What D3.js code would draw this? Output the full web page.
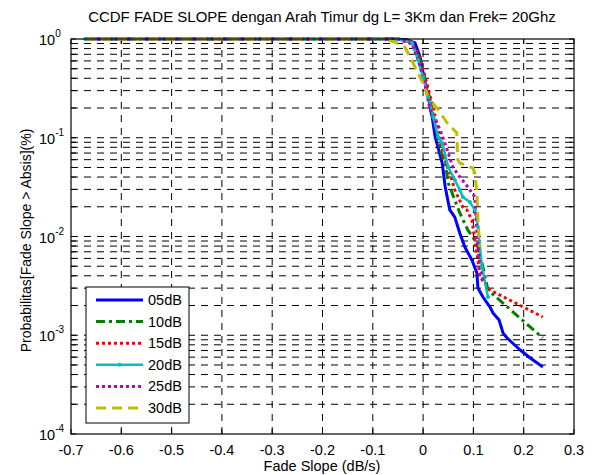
<!DOCTYPE html>
<html>
<head>
<meta charset="utf-8">
<script src="https://cdn.jsdelivr.net/npm/d3@7"></script>
<style>
  body { margin: 0; background: #fff; }
  svg { display: block; font-family: Arial, "Liberation Sans", sans-serif; }
</style>
</head>
<body>
<div id="chart"></div>
<script>
// CCDF of fade slope, six threshold levels, log y axis.
const xTicks = [-0.7, -0.6, -0.5, -0.4, -0.3, -0.2, -0.1, 0, 0.1, 0.2, 0.3];
const yDecades = [0, -1, -2, -3, -4];
const seriesNames = ['05dB', '10dB', '15dB', '20dB', '25dB', '30dB'];

const s05 = [[-0.672,1],[-0.056,1],[-0.032,0.98],[-0.016,0.911],[-0.006,0.657],[0.000,0.453],[0.010,0.259],[0.018,0.162],[0.024,0.102],[0.038,0.0555],[0.044,0.0317],[0.053,0.0186],[0.063,0.0157],[0.073,0.0108],[0.083,0.00783],[0.097,0.00578],[0.107,0.00427],[0.109,0.00301],[0.119,0.00244],[0.133,0.00193],[0.139,0.00168],[0.151,0.00143],[0.159,0.00105],[0.167,0.000938],[0.193,0.000709],[0.213,0.000589],[0.238,0.000477]];
const s10 = [[-0.672,1],[-0.052,1],[-0.026,0.954],[-0.010,0.689],[0.002,0.432],[0.014,0.241],[0.026,0.120],[0.034,0.0751],[0.044,0.0555],[0.050,0.0348],[0.063,0.0234],[0.073,0.0173],[0.089,0.0116],[0.099,0.00989],[0.109,0.00783],[0.119,0.00491],[0.129,0.00287],[0.238,0.000938]];
const s15 = [[-0.672,1],[-0.050,1],[-0.024,0.933],[-0.008,0.673],[0.004,0.412],[0.016,0.241],[0.028,0.135],[0.038,0.0751],[0.048,0.0506],[0.053,0.0440],[0.063,0.0296],[0.079,0.0199],[0.087,0.0186],[0.097,0.0147],[0.103,0.00922],[0.109,0.00578],[0.113,0.00389],[0.133,0.00287],[0.238,0.00153]];
const s20 = [[-0.672,1],[-0.217,1],[-0.090,1],[-0.052,1],[-0.022,0.911],[-0.010,0.613],[0.000,0.412],[0.010,0.259],[0.020,0.162],[0.030,0.102],[0.038,0.0885],[0.050,0.0506],[0.063,0.0373],[0.073,0.0296],[0.079,0.0251],[0.093,0.0223],[0.103,0.0186],[0.109,0.0125],[0.117,0.00491],[0.129,0.00244]];
const s25 = [[-0.672,1],[-0.050,1],[-0.022,0.890],[-0.010,0.613],[0.002,0.384],[0.014,0.191],[0.034,0.120],[0.048,0.0751],[0.059,0.0506],[0.073,0.0401],[0.089,0.0317],[0.103,0.0251],[0.107,0.0108],[0.113,0.00491],[0.119,0.00362]];
const s30 = [[-0.672,1],[-0.076,1],[-0.056,0.933],[-0.036,0.830],[-0.020,0.571],[0.000,0.358],[0.010,0.259],[0.030,0.191],[0.048,0.141],[0.067,0.112],[0.069,0.0595],[0.073,0.0555],[0.099,0.0494],[0.103,0.0440],[0.107,0.0276],[0.109,0.0147],[0.113,0.00783]];

const seriesData = [s05, s10, s15, s20, s25, s30];
const colors = ['#0000ff', '#008000', '#ff0000', '#00bfbf', '#bf00bf', '#bfbf00'];
const dashes = [null, '9,4,3,4', '3,3', null, '3,3', '10,6'];

const width = 594, height = 475;
const margin = {top: 39, right: 20, bottom: 41, left: 71};

const svg = d3.select('#chart').append('svg')
  .attr('width', width).attr('height', height);

const x = d3.scaleLinear().domain([-0.7, 0.3]).range([margin.left, width - margin.right]);
const y = d3.scaleLog().domain([1e-4, 1]).range([height - margin.bottom, margin.top]);

const x0 = x.range()[0], x1 = x.range()[1];
const y0 = y.range()[0], y1 = y.range()[1];

// minor log positions (2..9 per decade) plus decades
const yGrid = [];
for (let e = -4; e < 0; e++) {
  for (let m = 1; m < 10; m++) yGrid.push(m * Math.pow(10, e));
}
yGrid.push(1);

// grid
const grid = svg.append('g').attr('stroke', '#000').attr('stroke-width', 1)
  .attr('stroke-dasharray', '7,6');
grid.selectAll('line.gx').data(xTicks.slice(1, -1)).join('line')
  .attr('x1', d => x(d)).attr('x2', d => x(d))
  .attr('y1', y0).attr('y2', y1);
grid.selectAll('line.gy').data(yGrid.filter(d => d > 1e-4 && d < 1)).join('line')
  .attr('x1', x0).attr('x2', x1)
  .attr('y1', d => y(d)).attr('y2', d => y(d));

// ticks (inside, both sides)
const ticks = svg.append('g').attr('stroke', '#000').attr('stroke-width', 1);
xTicks.forEach(t => {
  ticks.append('line').attr('x1', x(t)).attr('x2', x(t)).attr('y1', y0).attr('y2', y0 - 5);
  ticks.append('line').attr('x1', x(t)).attr('x2', x(t)).attr('y1', y1).attr('y2', y1 + 5);
});
yGrid.forEach(t => {
  ticks.append('line').attr('x1', x0).attr('x2', x0 + 5).attr('y1', y(t)).attr('y2', y(t));
  ticks.append('line').attr('x1', x1).attr('x2', x1 - 5).attr('y1', y(t)).attr('y2', y(t));
});

// series
const line = d3.line().x(d => x(d[0])).y(d => y(d[1]));
seriesData.forEach((data, i) => {
  svg.append('path')
    .datum(data)
    .attr('fill', 'none')
    .attr('stroke', colors[i])
    .attr('stroke-width', i === 3 ? 2.5 : 3)
    .attr('stroke-dasharray', dashes[i])
    .attr('stroke-linejoin', 'round')
    .attr('d', line);
});
// cyan point markers
svg.append('g').selectAll('circle').data(s20).join('circle')
  .attr('cx', d => x(d[0])).attr('cy', d => y(d[1])).attr('r', 2)
  .attr('fill', colors[3]);

// axes box
svg.append('rect')
  .attr('x', x0).attr('y', y1).attr('width', x1 - x0).attr('height', y0 - y1)
  .attr('fill', 'none').attr('stroke', '#000').attr('stroke-width', 1.2);

// x tick labels
svg.append('g').selectAll('text').data(xTicks).join('text')
  .attr('x', d => x(d)).attr('y', y0 + 21)
  .attr('text-anchor', 'middle').attr('font-size', 14.5)
  .text(d => d3.format('.1~f')(d).replace('−', '-'));

// y tick labels: 10^e
const yl = svg.append('g').attr('font-size', 14.5);
yDecades.forEach(e => {
  const t = yl.append('text').attr('x', x0 - 32).attr('y', y(Math.pow(10, e)) + 6);
  t.append('tspan').text('10');
  t.append('tspan').attr('font-size', 10).attr('dy', -8).text(String(e).replace('−', '-'));
});

// labels
svg.append('text').attr('x', 322).attr('y', 22).attr('text-anchor', 'middle')
  .attr('font-size', 15).text('CCDF FADE SLOPE dengan Arah Timur dg L= 3Km dan Frek= 20Ghz');
svg.append('text').attr('x', 322).attr('y', 471).attr('text-anchor', 'middle')
  .attr('font-size', 14.5).text('Fade Slope (dB/s)');
svg.append('text')
  .attr('transform', `translate(31,${(y0 + y1) / 2 + 4}) rotate(-90)`)
  .attr('text-anchor', 'middle').attr('font-size', 14)
  .text('Probabilitas[Fade Slope > Absis](%)');

// legend
const lg = svg.append('g').attr('transform', 'translate(86,287)');
lg.append('rect').attr('width', 103).attr('height', 136)
  .attr('fill', '#fff').attr('stroke', '#000').attr('stroke-width', 1);
seriesNames.forEach((name, i) => {
  const yy = 13 + i * 21.6;
  lg.append('line').attr('x1', 10).attr('x2', 57).attr('y1', yy).attr('y2', yy)
    .attr('stroke', colors[i]).attr('stroke-width', i === 3 ? 2.5 : 3)
    .attr('stroke-dasharray', dashes[i]);
  if (i === 3) lg.append('circle').attr('cx', 33.5).attr('cy', yy).attr('r', 2).attr('fill', colors[i]);
  lg.append('text').attr('x', 62).attr('y', yy + 5).attr('font-size', 14.5).text(name);
});
</script>
</body>
</html>
